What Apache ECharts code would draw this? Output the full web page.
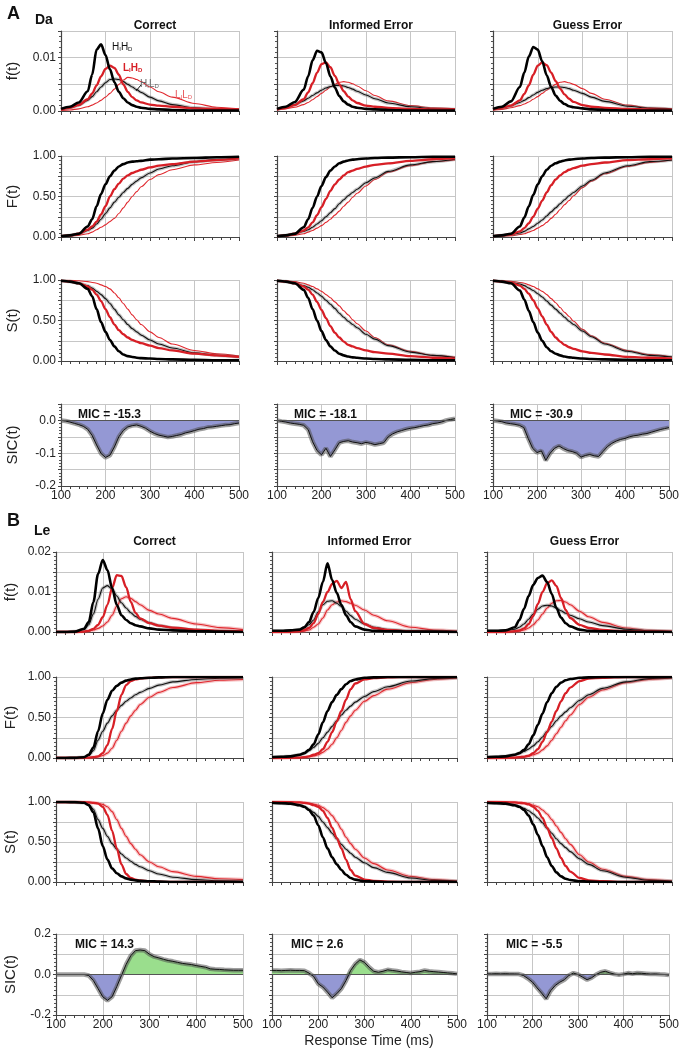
<!DOCTYPE html>
<html>
<head>
<meta charset="utf-8">
<script src="https://cdn.jsdelivr.net/npm/echarts@6.0.0/dist/echarts.min.js"></script>
<style>
  html, body { margin: 0; padding: 0; background: #fff; }
  #chart { width: 682px; height: 1050px; }
</style>
</head>
<body>
<div id="chart"></div>
<script>
// time grid (ms) used by the f/F/S curves, and the 10 ms grid used by the SIC curves
const T = [100, 120, 140, 160, 170, 180, 190, 200, 210, 220, 230, 240, 250, 260, 270, 280, 300, 320, 350, 400, 450, 500]
const T10 = [100, 110, 120, 130, 140, 150, 160, 170, 180, 190, 200, 210, 220, 230, 240, 250, 260, 270, 280, 290, 300,
  310, 320, 330, 340, 350, 360, 370, 380, 390, 400, 410, 420, 430, 440, 450, 460, 470, 480, 490, 500]

const columns = ['Correct', 'Informed Error', 'Guess Error']
const rowNames = ['f(t)', 'F(t)', 'S(t)', 'SIC(t)']
const micA = ['MIC = -15.3', 'MIC = -18.1', 'MIC = -30.9']
const micB = ['MIC = 14.3', 'MIC = 2.6', 'MIC = -5.5']

// every curve set is ordered HIHD, LIHD, HILD, LILD
// ---- A (Da)
const aCorrect_f = [
  [.0004, .0008, .0016, .0037, .0068, .0115, .0125, .0105, .0078, .0054, .0036, .0024, .0016, .0011, .0008, .0006, .0004, .0003, .0002, .0001, .0001, .0001],
  [.0003, .0006, .0011, .0022, .0033, .0048, .0065, .0079, .0085, .0081, .0068, .0050, .0036, .0026, .0020, .0016, .0012, .0010, .0008, .0005, .0004, .0003],
  [.0003, .0006, .0011, .0020, .0027, .0036, .0045, .0053, .0059, .0060, .0059, .0055, .0050, .0045, .0040, .0035, .0026, .0019, .0012, .0006, .0003, .0002],
  [.0001, .0002, .0004, .0008, .0011, .0015, .0020, .0026, .0033, .0041, .0050, .0058, .0063, .0062, .0059, .0055, .0045, .0036, .0026, .0014, .0007, .0004]
]
const aInformed_f = [
  [.0004, .0008, .0017, .0040, .0065, .0095, .0113, .0110, .0090, .0065, .0044, .0028, .0018, .0012, .0008, .0006, .0004, .0003, .0002, .0001, .0001, .0001],
  [.0003, .0006, .0011, .0022, .0035, .0052, .0072, .0088, .0091, .0082, .0066, .0050, .0037, .0027, .0020, .0015, .0010, .0008, .0006, .0004, .0003, .0003],
  [.0003, .0007, .0012, .0019, .0024, .0029, .0034, .0039, .0043, .0046, .0048, .0048, .0047, .0044, .0041, .0037, .0030, .0023, .0015, .0008, .0004, .0003],
  [.0002, .0004, .0007, .0012, .0016, .0021, .0027, .0033, .0039, .0045, .0050, .0054, .0055, .0054, .0051, .0047, .0038, .0029, .0019, .0010, .0006, .0004]
]
const aGuess_f = [
  [.0004, .0008, .0018, .0045, .0072, .0102, .0120, .0115, .0093, .0067, .0045, .0029, .0019, .0013, .0009, .0007, .0005, .0003, .0002, .0001, .0001, .0001],
  [.0003, .0006, .0010, .0020, .0032, .0048, .0068, .0085, .0091, .0086, .0072, .0056, .0042, .0031, .0023, .0017, .0011, .0008, .0006, .0004, .0003, .0002],
  [.0003, .0006, .0010, .0016, .0020, .0025, .0030, .0035, .0039, .0042, .0044, .0045, .0045, .0044, .0042, .0039, .0033, .0026, .0018, .0009, .0005, .0003],
  [.0002, .0003, .0006, .0010, .0013, .0017, .0022, .0027, .0033, .0039, .0045, .0050, .0054, .0055, .0053, .0050, .0042, .0033, .0022, .0011, .0006, .0004]
]
const aCorrect_F = [
  [.01, .02, .04, .13, .22, .38, .53, .65, .75, .82, .87, .90, .92, .93, .935, .94, .955, .96, .97, .975, .985, .99],
  [.01, .02, .04, .09, .13, .19, .28, .38, .50, .59, .66, .72, .76, .79, .81, .83, .86, .88, .90, .93, .95, .97],
  [.01, .02, .04, .08, .11, .16, .22, .29, .36, .43, .49, .55, .60, .65, .69, .73, .79, .84, .88, .93, .955, .97],
  [.005, .01, .02, .04, .06, .09, .12, .15, .19, .23, .29, .36, .43, .50, .56, .62, .71, .77, .83, .89, .92, .95]
]
const aInformed_F = [
  [.01, .02, .04, .12, .22, .36, .50, .63, .74, .82, .87, .91, .93, .945, .955, .96, .97, .975, .98, .985, .99, .99],
  [.01, .02, .04, .08, .12, .18, .27, .37, .47, .57, .65, .71, .76, .80, .82, .84, .87, .89, .91, .94, .96, .97],
  [.01, .02, .04, .07, .09, .12, .16, .20, .25, .30, .35, .41, .46, .51, .55, .59, .67, .73, .81, .89, .93, .96],
  [.005, .01, .02, .04, .06, .08, .11, .14, .18, .22, .27, .32, .38, .43, .49, .54, .63, .71, .80, .88, .93, .95]
]
const aGuess_F = [
  [.01, .02, .04, .13, .24, .38, .52, .65, .75, .83, .88, .91, .93, .945, .955, .96, .97, .975, .98, .985, .99, .99],
  [.01, .02, .03, .07, .11, .17, .25, .35, .45, .55, .64, .71, .76, .80, .83, .85, .88, .90, .92, .95, .96, .97],
  [.01, .02, .03, .05, .07, .10, .13, .17, .21, .26, .31, .36, .41, .46, .51, .55, .63, .70, .79, .88, .93, .95],
  [.005, .01, .015, .03, .04, .06, .08, .11, .14, .18, .23, .28, .34, .40, .45, .51, .61, .69, .78, .87, .92, .95]
]
const aCorrect_S = [
  [.99, .98, .96, .89, .80, .64, .48, .36, .26, .18, .12, .08, .06, .05, .04, .035, .03, .025, .02, .015, .01, .01],
  [.99, .98, .96, .92, .88, .82, .74, .64, .54, .45, .38, .33, .29, .26, .24, .22, .19, .16, .13, .09, .07, .05],
  [.99, .98, .96, .93, .90, .86, .82, .77, .71, .64, .57, .51, .45, .40, .36, .32, .26, .21, .16, .10, .07, .05],
  [1, .995, .99, .98, .97, .96, .94, .92, .89, .84, .78, .71, .64, .57, .51, .45, .36, .29, .21, .13, .09, .06]
]
const aInformed_S = [
  [.99, .98, .96, .88, .78, .64, .50, .37, .26, .18, .13, .09, .07, .055, .045, .04, .03, .025, .02, .015, .01, .01],
  [.99, .98, .96, .92, .88, .82, .73, .63, .53, .43, .35, .29, .24, .20, .18, .16, .13, .11, .09, .06, .04, .03],
  [.99, .98, .96, .93, .91, .88, .84, .80, .75, .70, .65, .59, .54, .49, .45, .41, .33, .27, .19, .11, .07, .04],
  [1, .99, .98, .96, .94, .92, .89, .86, .82, .78, .73, .68, .62, .57, .51, .46, .37, .29, .20, .12, .07, .05]
]
const aGuess_S = [
  [.99, .98, .96, .87, .76, .62, .48, .35, .25, .17, .12, .09, .07, .055, .045, .04, .03, .025, .02, .015, .01, .01],
  [.99, .98, .97, .93, .89, .83, .75, .65, .55, .45, .36, .29, .24, .20, .17, .15, .12, .10, .08, .05, .04, .03],
  [.99, .98, .97, .95, .93, .90, .87, .83, .79, .74, .69, .64, .59, .54, .49, .45, .37, .30, .21, .12, .07, .05],
  [1, .99, .985, .97, .96, .94, .92, .89, .86, .82, .77, .72, .66, .60, .55, .49, .39, .31, .22, .13, .08, .05]
]
const aCorrect_SIC = [0, -.002, -.005, -.009, -.013, -.018, -.027, -.046, -.075, -.101, -.113, -.106, -.081, -.05, -.031, -.02, -.016, -.014, -.018, -.024, -.033,
  -.04, -.045, -.048, -.051, -.049, -.046, -.043, -.038, -.035, -.031, -.027, -.025, -.021, -.02, -.018, -.016, -.014, -.013, -.01, -.008]
const aInformed_SIC = [0, -.003, -.005, -.008, -.01, -.012, -.015, -.028, -.065, -.092, -.105, -.085, -.11, -.09, -.068, -.064, -.062, -.066, -.068, -.071, -.067,
  -.07, -.074, -.071, -.068, -.05, -.041, -.035, -.031, -.027, -.024, -.022, -.019, -.016, -.014, -.01, -.008, -.005, 0, .003, .005]
const aGuess_SIC = [0, -.002, -.004, -.008, -.01, -.012, -.015, -.022, -.055, -.085, -.098, -.093, -.122, -.1, -.085, -.078, -.086, -.092, -.095, -.1, -.112,
  -.107, -.104, -.108, -.11, -.095, -.08, -.07, -.063, -.058, -.055, -.05, -.047, -.045, -.042, -.04, -.036, -.032, -.028, -.025, -.022]

// ---- B (Le)
const bCorrect_f = [
  [0, 0, .0001, .0008, .0025, .0075, .0145, .0180, .0155, .0110, .0068, .0042, .0030, .0022, .0017, .0014, .0009, .0006, .0004, .0002, .0001, 0],
  [0, 0, 0, .0001, .0003, .0008, .0018, .0037, .0068, .0110, .0142, .0140, .0112, .0075, .0048, .0034, .0022, .0016, .0011, .0006, .0003, .0002],
  [0, 0, .0001, .0006, .0018, .0045, .0082, .0110, .0116, .0107, .0090, .0073, .0060, .0048, .0039, .0032, .0023, .0016, .0010, .0005, .0002, .0001],
  [0, 0, 0, .0001, .0002, .0005, .0009, .0015, .0025, .0042, .0065, .0083, .0088, .0084, .0076, .0068, .0054, .0045, .0034, .0020, .0011, .0006]
]
const bInformed_f = [
  [.0003, .0003, .0004, .0006, .0012, .0025, .0050, .0085, .0125, .0172, .0130, .0098, .0068, .0042, .0025, .0014, .0006, .0003, .0002, .0001, .0001, 0],
  [0, 0, 0, .0002, .0005, .0010, .0022, .0045, .0075, .0100, .0120, .0128, .0110, .0125, .0082, .0052, .0020, .0010, .0005, .0002, .0001, 0],
  [.0002, .0002, .0003, .0006, .0010, .0018, .0030, .0050, .0068, .0077, .0078, .0072, .0064, .0052, .0041, .0032, .0020, .0012, .0006, .0003, .0002, .0001],
  [0, 0, 0, .0001, .0002, .0005, .0012, .0020, .0035, .0055, .0068, .0075, .0078, .0076, .0072, .0067, .0055, .0042, .0028, .0012, .0005, .0002]
]
const bGuess_f = [
  [.0003, .0003, .0004, .0012, .0030, .0058, .0090, .0118, .0135, .0141, .0125, .0095, .0060, .0036, .0022, .0014, .0006, .0003, .0002, .0001, 0, 0],
  [0, 0, 0, .0002, .0004, .0009, .0020, .0040, .0070, .0100, .0122, .0129, .0115, .0085, .0055, .0035, .0018, .0010, .0005, .0002, .0001, 0],
  [.0002, .0002, .0003, .0007, .0012, .0020, .0032, .0045, .0057, .0065, .0067, .0065, .0060, .0053, .0047, .0042, .0033, .0025, .0016, .0007, .0003, .0001],
  [0, 0, 0, .0001, .0002, .0005, .0010, .0018, .0030, .0045, .0060, .0072, .0078, .0079, .0075, .0068, .0052, .0038, .0024, .0010, .0004, .0002]
]
const bCorrect_F = [
  [0, 0, .002, .01, .04, .13, .33, .55, .72, .83, .89, .93, .955, .97, .98, .985, .99, .995, 1, 1, 1, 1],
  [0, 0, 0, .002, .005, .01, .02, .06, .16, .36, .58, .78, .90, .95, .97, .98, .99, .995, 1, 1, 1, 1],
  [0, 0, .002, .01, .03, .09, .22, .33, .43, .52, .59, .65, .70, .74, .78, .81, .86, .90, .94, .97, .985, .99],
  [0, 0, 0, .002, .004, .008, .015, .03, .06, .12, .22, .33, .43, .52, .59, .66, .75, .81, .87, .93, .96, .97]
]
const bInformed_F = [
  [.01, .015, .02, .04, .06, .10, .17, .29, .44, .58, .69, .78, .85, .91, .95, .97, .99, .995, 1, 1, 1, 1],
  [0, 0, .002, .005, .01, .02, .04, .06, .11, .20, .32, .45, .58, .72, .85, .92, .97, .985, .995, 1, 1, 1],
  [.01, .015, .02, .04, .06, .09, .13, .18, .25, .32, .39, .46, .53, .59, .64, .69, .76, .82, .88, .95, .98, .99],
  [0, 0, .002, .005, .01, .015, .025, .04, .07, .11, .17, .25, .34, .44, .52, .59, .70, .77, .85, .93, .97, .99]
]
const bGuess_F = [
  [.01, .015, .02, .04, .06, .10, .17, .28, .41, .55, .69, .80, .88, .93, .96, .975, .99, .995, 1, 1, 1, 1],
  [0, 0, .002, .005, .01, .015, .03, .06, .11, .20, .32, .45, .58, .70, .80, .87, .95, .98, .99, 1, 1, 1],
  [.01, .015, .02, .04, .06, .08, .11, .15, .20, .26, .33, .39, .46, .52, .57, .62, .71, .78, .86, .94, .98, .99],
  [0, 0, .002, .005, .01, .015, .02, .04, .06, .10, .15, .22, .30, .38, .46, .53, .66, .75, .84, .93, .97, .99]
]
const bCorrect_S = [
  [1, 1, .998, .99, .96, .87, .67, .45, .28, .17, .11, .07, .045, .03, .02, .015, .01, .005, 0, 0, 0, 0],
  [1, 1, 1, .998, .995, .99, .98, .94, .84, .64, .42, .22, .10, .05, .03, .02, .01, .005, 0, 0, 0, 0],
  [1, 1, .998, .99, .97, .91, .78, .67, .57, .48, .41, .35, .30, .26, .22, .19, .14, .10, .06, .03, .015, .01],
  [1, 1, 1, .998, .996, .992, .985, .97, .94, .88, .78, .67, .57, .48, .41, .34, .25, .19, .13, .07, .04, .03]
]
const bInformed_S = [
  [.99, .985, .98, .96, .94, .90, .83, .71, .56, .42, .31, .22, .15, .09, .05, .03, .01, .005, 0, 0, 0, 0],
  [1, 1, .998, .995, .99, .98, .96, .94, .89, .80, .68, .55, .42, .28, .15, .08, .03, .015, .005, 0, 0, 0],
  [.99, .985, .98, .96, .94, .91, .87, .82, .75, .68, .61, .54, .47, .41, .36, .31, .24, .18, .12, .05, .02, .01],
  [1, 1, .998, .995, .99, .985, .975, .96, .93, .89, .83, .75, .66, .56, .48, .41, .30, .23, .15, .07, .03, .01]
]
const bGuess_S = [
  [.99, .985, .98, .96, .94, .90, .83, .72, .59, .45, .31, .20, .12, .07, .04, .025, .01, .005, 0, 0, 0, 0],
  [1, 1, .998, .995, .99, .985, .97, .94, .89, .80, .68, .55, .42, .30, .20, .13, .05, .02, .01, 0, 0, 0],
  [.99, .985, .98, .96, .94, .92, .89, .85, .80, .74, .67, .61, .54, .48, .43, .38, .29, .22, .14, .06, .02, .01],
  [1, 1, .998, .995, .99, .985, .98, .96, .94, .90, .85, .78, .70, .62, .54, .47, .34, .25, .16, .07, .03, .01]
]
const bCorrect_SIC = [0, 0, 0, 0, 0, 0, 0, -.005, -.03, -.07, -.11, -.128, -.11, -.06, -.005, .05, .093, .118, .121, .118, .10,
  .088, .082, .075, .069, .065, .06, .055, .052, .049, .044, .04, .036, .028, .026, .025, .023, .022, .021, .021, .021]
const bInformed_SIC = [.02, .02, .019, .02, .021, .02, .02, .019, .007, -.01, -.046, -.062, -.087, -.115, -.095, -.07, -.03, .02, .052, .072, .06,
  .036, .016, .011, .016, .023, .02, .017, .013, .01, .007, .011, .014, .02, .016, .014, .012, .01, .008, .006, .003]
const bGuess_SIC = [.003, .003, .004, .003, .004, .003, .003, .002, -.005, -.02, -.038, -.066, -.092, -.12, -.08, -.054, -.038, -.026, -.005, .007, 0,
  -.013, -.026, -.016, 0, .011, .016, .008, .002, -.002, .002, .007, .004, .007, .006, .004, .002, .003, .001, 0, -.003]

const FONT = 'Liberation Sans, Arial, sans-serif'
const RED = '#d71f26'

const panels = [
  {
    key: 'A', sub: 'Da', mic: micA, headTop: 15,
    lefts: [61, 277, 493], widths: [178, 178, 179],
    tops: [31, 156, 280, 404], heights: [80, 81, 81, 82], nameGap: 41,
    data: [
      [aCorrect_f, aCorrect_F, aCorrect_S, aCorrect_SIC],
      [aInformed_f, aInformed_F, aInformed_S, aInformed_SIC],
      [aGuess_f, aGuess_F, aGuess_S, aGuess_SIC]
    ],
    y: [
      { min: 0, max: 0.015, interval: 0.005, labels: [0, 0.01], digits: 2 },
      { min: 0, max: 1, interval: 0.25, labels: [0, 0.5, 1], digits: 2 },
      { min: 0, max: 1, interval: 0.25, labels: [0, 0.5, 1], digits: 2 },
      { min: -0.2, max: 0.05, interval: 0.05, labels: [0, -0.1, -0.2], digits: 1 }
    ]
  },
  {
    key: 'B', sub: 'Le', mic: micB, headTop: 531,
    lefts: [56, 272, 487], widths: [187, 185, 185],
    tops: [552, 677, 802, 934], heights: [80, 81, 80, 81], nameGap: 38,
    data: [
      [bCorrect_f, bCorrect_F, bCorrect_S, bCorrect_SIC],
      [bInformed_f, bInformed_F, bInformed_S, bInformed_SIC],
      [bGuess_f, bGuess_F, bGuess_S, bGuess_SIC]
    ],
    y: [
      { min: 0, max: 0.02, interval: 0.005, labels: [0, 0.01, 0.02], digits: 2 },
      { min: 0, max: 1, interval: 0.25, labels: [0, 0.5, 1], digits: 2 },
      { min: 0, max: 1, interval: 0.25, labels: [0, 0.5, 1], digits: 2 },
      { min: -0.2, max: 0.2, interval: 0.1, labels: [0.2, 0, -0.2], digits: 1 }
    ]
  }
]

const grid = []
const xAxis = []
const yAxis = []
const series = []
const title = []

function labelFormatter(spec) {
  return function (v) {
    const hit = spec.labels.some(l => Math.abs(l - v) < 1e-9)
    if (!hit) return ''
    return (Math.abs(v) < 1e-9 ? 0 : v).toFixed(spec.digits)
  }
}

function addCurves(g, curves, isB) {
  // drawn LILD, HILD, LIHD, HIHD so the thick ones sit on top
  const styles = [
    { color: '#000', width: 2.6, band: null },
    { color: RED, width: 2.3, band: null },
    { color: '#111', width: 1.1, band: 'rgba(90,90,90,0.35)' },
    { color: '#e0282e', width: 1.1, band: isB ? 'rgba(230,90,95,0.35)' : null }
  ]
  ;[3, 2, 1, 0].forEach(k => {
    const pts = T.map((t, i) => [t, curves[k][i]])
    const st = styles[k]
    if (st.band) {
      series.push({
        type: 'line', xAxisIndex: g, yAxisIndex: g, data: pts, showSymbol: false,
        smooth: 0.3, smoothMonotone: 'x', silent: true,
        lineStyle: { color: st.band, width: 3.5 }
      })
    }
    series.push({
      type: 'line', xAxisIndex: g, yAxisIndex: g, data: pts, showSymbol: false,
      smooth: 0.3, smoothMonotone: 'x', silent: true,
      lineStyle: { color: st.color, width: st.width }
    })
  })
}

function addSic(g, sic) {
  const neg = T10.map((t, i) => [t, Math.min(sic[i], 0)])
  const pos = T10.map((t, i) => [t, Math.max(sic[i], 0)])
  const line = T10.map((t, i) => [t, sic[i]])
  series.push({
    type: 'line', xAxisIndex: g, yAxisIndex: g, data: neg, showSymbol: false, silent: true,
    lineStyle: { width: 0 }, areaStyle: { color: '#9498d4', opacity: 1 }
  })
  series.push({
    type: 'line', xAxisIndex: g, yAxisIndex: g, data: pos, showSymbol: false, silent: true,
    lineStyle: { width: 0 }, areaStyle: { color: '#9ade8d', opacity: 1 },
    markLine: {
      silent: true, symbol: 'none', label: { show: false },
      lineStyle: { color: '#555', width: 1, type: 'solid' },
      data: [{ yAxis: 0 }]
    }
  })
  series.push({
    type: 'line', xAxisIndex: g, yAxisIndex: g, data: line, showSymbol: false, silent: true,
    lineStyle: { color: 'rgba(80,80,80,0.55)', width: 4.5 }
  })
  series.push({
    type: 'line', xAxisIndex: g, yAxisIndex: g, data: line, showSymbol: false, silent: true,
    lineStyle: { color: '#111', width: 1 }
  })
}

panels.forEach((p, pi) => {
  for (let c = 0; c < 3; c++) {
    for (let r = 0; r < 4; r++) {
      const g = grid.length
      grid.push({ left: p.lefts[c], top: p.tops[r], width: p.widths[c], height: p.heights[r] })
      xAxis.push({
        gridIndex: g, type: 'value', min: 100, max: 500, interval: 100,
        axisLine: { show: true, onZero: false, lineStyle: { color: '#444', width: 1.2 } },
        axisTick: { show: true, length: 4, lineStyle: { color: '#444' } },
        minorTick: { show: true, splitNumber: 5, length: 3, lineStyle: { color: '#444' } },
        splitLine: { show: true, lineStyle: { color: '#c6c6c6' } },
        axisLabel: { show: r === 3, fontSize: 12, color: '#222', margin: 4, fontFamily: FONT }
      })
      const ys = p.y[r]
      yAxis.push({
        gridIndex: g, type: 'value', min: ys.min, max: ys.max, interval: ys.interval,
        axisLine: { show: true, lineStyle: { color: '#444', width: 1.2 } },
        axisTick: { show: true, length: 3, lineStyle: { color: '#444' } },
        minorTick: { show: true, splitNumber: 5, length: 2, lineStyle: { color: '#555' } },
        splitLine: { show: true, lineStyle: { color: '#c6c6c6' } },
        axisLabel: { show: c === 0, fontSize: 12, color: '#222', margin: 5, fontFamily: FONT, formatter: labelFormatter(ys) },
        name: c === 0 ? rowNames[r] : '',
        nameLocation: 'middle', nameRotate: 90, nameGap: p.nameGap,
        nameTextStyle: { fontSize: 15, color: '#222', fontFamily: FONT }
      })
      const d = p.data[c][r]
      if (r < 3) addCurves(g, d, pi === 1)
      else addSic(g, d)
    }
    // column header
    title.push({
      text: columns[c], left: p.lefts[c] + p.widths[c] / 2, top: p.headTop, textAlign: 'center',
      textStyle: { fontSize: 12, fontWeight: 'bold', color: '#111', fontFamily: FONT }
    })
    // MIC value
    title.push({
      text: p.mic[c], left: p.lefts[c] + (pi === 0 ? 12 : 14), top: p.tops[3],
      textStyle: { fontSize: 12, fontWeight: 'bold', color: '#111', fontFamily: FONT }
    })
  }
})

// panel letters and subject codes
title.push({ text: 'A', left: 2, top: 0, textStyle: { fontSize: 18, fontWeight: 'bold', color: '#111', fontFamily: FONT } })
title.push({ text: 'Da', left: 30, top: 8, textStyle: { fontSize: 14, fontWeight: 'bold', color: '#111', fontFamily: FONT } })
title.push({ text: 'B', left: 2, top: 507, textStyle: { fontSize: 18, fontWeight: 'bold', color: '#111', fontFamily: FONT } })
title.push({ text: 'Le', left: 29, top: 519, textStyle: { fontSize: 14, fontWeight: 'bold', color: '#111', fontFamily: FONT } })
title.push({
  text: 'Response Time (ms)', left: 364, top: 1029, textAlign: 'center',
  textStyle: { fontSize: 14, fontWeight: 'normal', color: '#222', fontFamily: FONT }
})

// curve labels in the first panel
function condLabel(a, b, color, bold, left, top) {
  title.push({
    text: '{n|' + a + '}{s|I}{n|' + b + '}{s|D}', left: left, top: top,
    textStyle: {
      rich: {
        n: { fontSize: 10, color: color, fontWeight: bold ? 'bold' : 'normal', fontFamily: FONT, lineHeight: 12 },
        s: { fontSize: 6, color: color, fontWeight: bold ? 'bold' : 'normal', fontFamily: FONT, lineHeight: 12, padding: [5, 0, 0, 0] }
      }
    }
  })
}
condLabel('H', 'H', '#111', false, 107, 36)
condLabel('L', 'H', RED, true, 118, 57)
condLabel('H', 'L', '#666', false, 135, 73)
condLabel('L', 'L', '#e8555a', false, 170, 84)

const chart = echarts.init(document.getElementById('chart'), null, { renderer: 'canvas' })
chart.setOption({
  animation: false,
  backgroundColor: '#fff',
  title: title,
  grid: grid,
  xAxis: xAxis,
  yAxis: yAxis,
  series: series,
  graphic: [
    { type: 'line', shape: { x1: 141, y1: 85, x2: 136, y2: 91 }, style: { stroke: '#111', lineWidth: 1 }, silent: true }
  ]
})
</script>
</body>
</html>
